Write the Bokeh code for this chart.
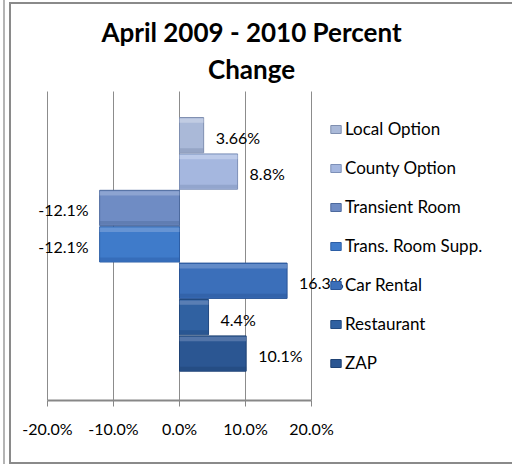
from bokeh.plotting import figure
from bokeh.models import (ColumnDataSource, Range1d, FixedTicker, PrintfTickFormatter,
                          Legend, LegendItem, Label)
from bokeh.core.properties import value
from bokeh.embed import file_html
from bokeh.resources import INLINE

# ---- data ----
categories = ["Local Option", "County Option", "Transient Room", "Trans. Room Supp.",
              "Car Rental", "Restaurant", "ZAP"]
pct_change = [3.66, 8.8, -12.1, -12.1, 16.3, 4.4, 10.1]
value_labels = ["3.66%", "8.8%", "-12.1%", "-12.1%", "16.3%", "4.4%", "10.1%"]
bar_colors = ["#aab9d8", "#a5b7df", "#6f8cc4", "#3f7bca", "#3b6fba", "#3061a1", "#2b5692"]
edge_colors = ["#7f8fb0", "#7d90b8", "#4d6a9e", "#2c5ea6", "#2a5597", "#224a80", "#1f4274"]
light_colors = ["#d4dcec", "#d0daf0", "#a5b8dc", "#86a9dc", "#84a3d4", "#7b98c4", "#7590bb"]
x_ticks = [-20, -10, 0, 10, 20]
title_lines = ["April 2009 - 2010 Percent", "Change"]

n = len(categories)
ypos = [n - 1 - i for i in range(n)]  # first category on top

FONT = "Lato"

# ---- layout (picture px) ----
W, H = 512, 464
PLOT_L, PLOT_R = 47, 311        # x of -20% and +20%
PLOT_T, PLOT_B = 91, 400        # y of plot area
X_LO, X_HI = x_ticks[0], x_ticks[-1]
Y_LO, Y_HI = -1.29, 7.2
pxx = (PLOT_R - PLOT_L) / (X_HI - X_LO)
pxy = (PLOT_B - PLOT_T) / (Y_HI - Y_LO)
x_start = X_LO - PLOT_L / pxx
x_end = X_HI + (W - PLOT_R) / pxx
y_end = Y_HI + PLOT_T / pxy

p = figure(width=W, height=H, output_backend="svg", toolbar_location=None,
           title=None, x_range=Range1d(x_start, x_end), y_range=Range1d(Y_LO, y_end),
           min_border_left=0, min_border_right=0, min_border_top=0,
           min_border_bottom=H - PLOT_B)
p.styles = {"box-shadow": "inset 3px 0 0 0 #ffffff, inset 5px 0 0 0 #b4b4b4, "
                          "inset 9px 0 0 0 #ffffff, inset 0 2px 0 0 #ffffff, "
                          "inset 11px 0 0 0 #8a8a8a, inset 0 4px 0 0 #8a8a8a, "
                          "inset 0 -2px 0 0 #8a8a8a"}
p.outline_line_color = None
p.background_fill_alpha = 0
p.border_fill_alpha = 0

src = ColumnDataSource(dict(y=ypos, v=pct_change, color=bar_colors, edge=edge_colors,
                            light=light_colors, cat=categories, lab=value_labels,
                            ytop=[y + 0.40 for y in ypos], ybot=[y - 0.41 for y in ypos]))

# grid / axes
p.yaxis.visible = False
p.ygrid.visible = False
p.xgrid.visible = False
p.segment(x0=x_ticks, x1=x_ticks, y0=[Y_LO] * len(x_ticks), y1=[Y_HI] * len(x_ticks),
          line_color="#8c8c8c", line_width=1)
xa = p.xaxis[0]
xa.bounds = (X_LO, X_HI)
xa.ticker = FixedTicker(ticks=x_ticks)
xa.formatter = PrintfTickFormatter(format="%.1f%%")
xa.axis_line_color = "#878787"
xa.axis_line_width = 2
xa.major_tick_line_color = "#878787"
xa.major_tick_line_width = 1
xa.major_tick_out = 6
xa.major_tick_in = 0
xa.minor_tick_line_color = None
xa.major_label_text_font = FONT
xa.major_label_text_font_size = "16px"
xa.major_label_text_color = "black"
xa.major_label_standoff = 12

# bars
main = p.hbar(y="y", left=0, right="v", height=0.97, fill_color="color",
              line_color="edge", line_width=1, source=src)
p.hbar(y="ytop", left=0, right="v", height=0.12, fill_color="light", fill_alpha=0.55,
       line_color=None, source=src)
p.hbar(y="ybot", left=0, right="v", height=0.1, fill_color="edge", fill_alpha=0.45,
       line_color=None, source=src)

# value labels
pos_idx = [i for i in range(n) if pct_change[i] >= 0]
neg_idx = [i for i in range(n) if pct_change[i] < 0]
src_pos = ColumnDataSource(dict(x=[pct_change[i] for i in pos_idx], y=[ypos[i] for i in pos_idx],
                                t=[value_labels[i] for i in pos_idx]))
src_neg = ColumnDataSource(dict(x=[pct_change[i] for i in neg_idx], y=[ypos[i] for i in neg_idx],
                                t=[value_labels[i] for i in neg_idx]))
p.text(x="x", y="y", text="t", source=src_pos, x_offset=12, y_offset=2,
       text_align="left", text_baseline="middle", text_font=value(FONT),
       text_font_size="16px", text_color="black")
p.text(x="x", y="y", text="t", source=src_neg, x_offset=-11, y_offset=2,
       text_align="right", text_baseline="middle", text_font=value(FONT),
       text_font_size="16px", text_color="black")

# legend (location = bottom-left, screen px relative to frame bottom-left)
items = [LegendItem(label=categories[i], renderers=[main], index=i) for i in range(n)]
legend = Legend(items=items, location=(329, PLOT_B - 373), orientation="vertical",
                glyph_width=13, glyph_height=10, label_height=20, spacing=18,
                label_standoff=3, padding=0, margin=0, border_line_color=None,
                background_fill_alpha=0, label_text_font=FONT,
                label_text_font_size="17px", label_text_color="black")
p.add_layout(legend, "center")

# title (screen px relative to frame)
TITLE_CX = 251
p.add_layout(Label(x=TITLE_CX, y=PLOT_B - 31, x_units="screen", y_units="screen",
                   text=title_lines[0], text_align="center", text_baseline="middle",
                   text_font=FONT, text_font_style="bold", text_font_size="26px",
                   text_color="black"))
p.add_layout(Label(x=TITLE_CX, y=PLOT_B - 68, x_units="screen", y_units="screen",
                   text=title_lines[1], text_align="center", text_baseline="middle",
                   text_font=FONT, text_font_style="bold", text_font_size="26px",
                   text_color="black"))

open("out.html", "w").write(file_html(p, INLINE))
